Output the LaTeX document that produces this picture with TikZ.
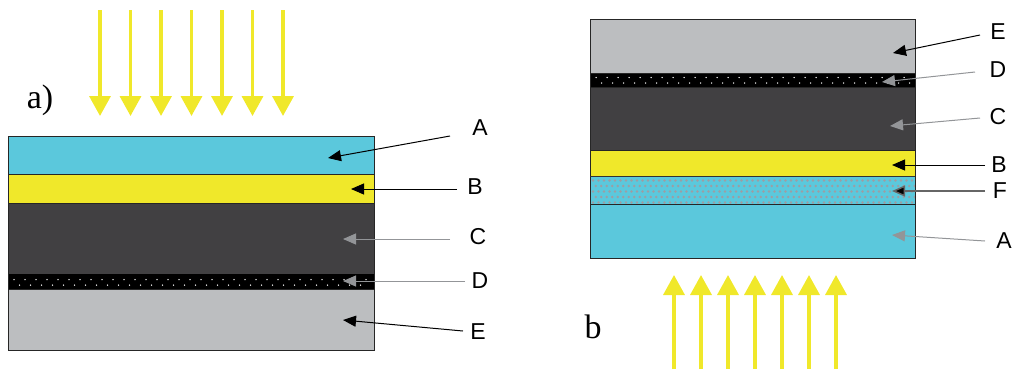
\documentclass[tikz,border=0pt]{standalone}
\usepackage{fontspec}
\setmainfont{Liberation Sans}
\newfontfamily\serifx{Liberation Serif}
\usetikzlibrary{arrows.meta}
\definecolor{cyanL}{HTML}{5BC8DC}
\definecolor{yelL}{HTML}{F0E82A}
\definecolor{darkL}{HTML}{414042}
\definecolor{grayL}{HTML}{BCBEC0}
\definecolor{dotG}{HTML}{9C9EA4}
\definecolor{arrG}{HTML}{939598}
\begin{document}
\begin{tikzpicture}[x=1pt,y=-1pt,
  edge/.style={draw=black!85, line width=0.8pt},
  lbl/.style={font=\fontsize{23}{23}\selectfont, inner sep=0pt},
  paneltag/.style={font=\serifx\fontsize{34}{34}\selectfont, inner sep=0pt},
  blk/.style={draw=black, line width=1pt, -{Triangle[length=13pt,width=11pt]}},
  gry/.style={draw=arrG, line width=1pt, -{Triangle[length=13pt,width=11pt]}},
  fgry/.style={draw=black!60, line width=1.5pt, -{Triangle[length=13pt,width=11pt,fill=black]}},
  ray/.style={draw=yelL, line width=3.5pt, -{Triangle[length=20pt,width=21pt]}}]
\useasboundingbox (0,0) rectangle (1012,373);
% ---------- panel a ----------
\fill[cyanL] (8,136) rectangle (374,174);
\fill[yelL] (8,174) rectangle (374,203);
\fill[darkL] (8,203) rectangle (374,274);
\fill[black] (8,274) rectangle (374,289);
\fill[grayL] (8,289) rectangle (374,350);
\foreach \x in {14,25,...,370} {\fill[white] (\x,279.5) circle (0.75);}
\foreach \x in {19.5,30.5,...,370} {\fill[white] (\x,285) circle (0.75);}
\draw[edge] (8,136) rectangle (374,350);
\draw[edge] (8,174) -- (374,174) (8,203) -- (374,203) (8,289) -- (374,289);
\foreach \x in {100,130.5,161,191.5,222,252.5,283} {\draw[ray] (\x,10) -- (\x,116);}
\node[paneltag] (capa) at (40,100) {a)};
\node[lbl] (lA) at (480,128) {A};
\node[lbl] (lB) at (475,187) {B};
\node[lbl] (lC) at (478,237) {C};
\node[lbl] (lD) at (480,281) {D};
\node[lbl] (lE) at (478,332) {E};
\coordinate (sA) at (450,136); \coordinate (tA) at (328,158);
\coordinate (sB) at (457,189); \coordinate (tB) at (351,189);
\coordinate (sC) at (450,239); \coordinate (tC) at (343,239);
\coordinate (sD) at (465,281); \coordinate (tD) at (343,281);
\coordinate (sE) at (463,331); \coordinate (tE) at (343,320);
\draw[blk] (sA) -- (tA);
\draw[blk] (sB) -- (tB);
\draw[gry] (sC) -- (tC);
\draw[gry] (sD) -- (tD);
\draw[blk] (sE) -- (tE);
% ---------- panel b ----------
\fill[grayL] (590,19) rectangle (915,73);
\fill[black] (590,73) rectangle (915,87);
\fill[darkL] (590,87) rectangle (915,150);
\fill[yelL] (590,150) rectangle (915,176);
\fill[cyanL] (590,177) rectangle (915,204);
\fill[cyanL] (590,204) rectangle (915,258);
\foreach \x in {596,607,...,912} {\fill[white] (\x,77.5) circle (0.75);}
\foreach \x in {601.5,612.5,...,912} {\fill[white] (\x,83) circle (0.75);}
\foreach \y [count=\i] in {180.5,186,191.5,197,202.5} {
  \pgfmathsetmacro{\off}{mod(\i,2)==0 ? 2.75 : 0}
  \foreach \x in {593,598.5,...,912} {\fill[dotG] (\x+\off,\y) circle (1.4);}
}
\draw[edge] (590,19) rectangle (915,258);
\draw[edge] (590,73) -- (915,73) (590,87) -- (915,87) (590,150) -- (915,150);
\draw[black!80, line width=1.6pt] (590,176.5) -- (915,176.5);
\draw[edge] (590,204) -- (915,204);
\foreach \x in {674,701,728,755,782,809,836} {\draw[ray] (\x,369) -- (\x,275);}
\node[paneltag] (capb) at (593,327) {b};
\node[lbl] (rE) at (998,32) {E};
\node[lbl] (rD) at (998,70) {D};
\node[lbl] (rC) at (998,117) {C};
\node[lbl] (rB) at (999,165) {B};
\node[lbl] (rF) at (1000,191) {F};
\node[lbl] (rA) at (1004,241) {A};
\coordinate (uE) at (980,35);  \coordinate (vE) at (893,53);
\coordinate (uD) at (975,72);  \coordinate (vD) at (882,82);
\coordinate (uC) at (980,118); \coordinate (vC) at (890,126);
\coordinate (uB) at (985,165); \coordinate (vB) at (892,165);
\coordinate (uF) at (985,191); \coordinate (vF) at (892,191);
\coordinate (uA) at (985,241); \coordinate (vA) at (892,235);
\draw[blk] (uE) -- (vE);
\draw[gry] (uD) -- (vD);
\draw[gry] (uC) -- (vC);
\draw[blk] (uB) -- (vB);
\draw[fgry] (uF) -- (vF);
\draw[gry] (uA) -- (vA);
\end{tikzpicture}
\end{document}
